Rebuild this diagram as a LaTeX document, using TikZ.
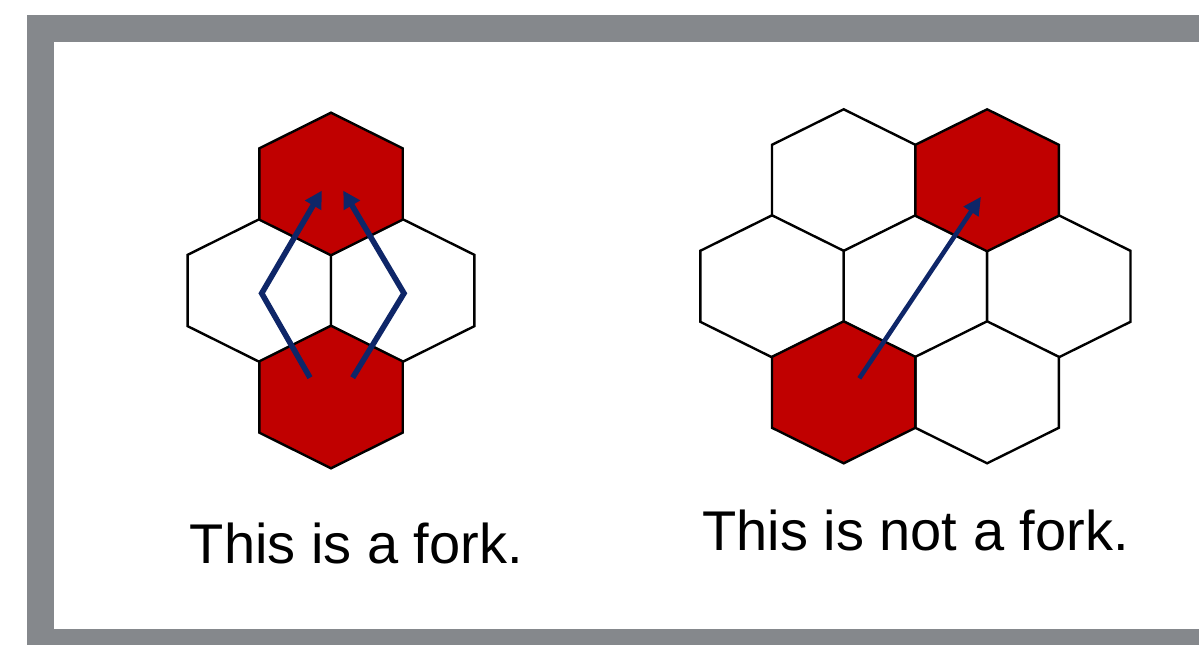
\documentclass[tikz,border=0pt]{standalone}
\usepackage{fontspec}
\setmainfont{Liberation Sans}
\usetikzlibrary{arrows.meta}
\definecolor{framegray}{RGB}{133,136,140}
\definecolor{cellred}{RGB}{192,0,0}
\definecolor{pathblue}{RGB}{14,38,104}
% pointy-top hexagon cell: \hexcell{style}{x}{y}{half width}{radius}
\newcommand{\hexcell}[5]{%
  \draw[#1] (#2,#3-#5) -- (#2+#4,#3-#5/2) -- (#2+#4,#3+#5/2) -- (#2,#3+#5)
    -- (#2-#4,#3+#5/2) -- (#2-#4,#3-#5/2) -- cycle;}
\tikzset{
  cell/.style={draw=black, line width=2.4pt, line join=miter, fill=white},
  redcell/.style={cell, fill=cellred},
  move/.style={draw=pathblue, line width=5.6pt,
    -{Triangle[length=17pt,width=18pt]}},
  thinmove/.style={draw=pathblue, line width=4.6pt,
    -{Triangle[length=18pt,width=17pt]}},
  caption/.style={anchor=base, inner sep=0pt, font=\fontsize{56}{60}\selectfont}
}
\begin{document}
\begin{tikzpicture}[x=1pt,y=-1pt]
\useasboundingbox (0,0) rectangle (1199,645);
% slide frame
\fill[framegray] (27,15) rectangle (1199,645);
\fill[white] (54,42) rectangle (1199,629);

% ---- left board: a fork ----
\hexcell{cell}{259.3}{290.5}{71.7}{71.3}
\hexcell{cell}{402.7}{290.5}{71.7}{71.3}
\hexcell{redcell}{331}{184}{71.7}{71.3}
\hexcell{redcell}{331}{397}{71.7}{71.3}
\coordinate (a1) at (310,377.7);
\coordinate (a2) at (261.7,293.3);
\coordinate (a3) at (321.7,190.7);
\coordinate (b1) at (352.7,377.7);
\coordinate (b2) at (404,293.3);
\coordinate (b3) at (343.3,190.7);
\draw[move] (a1) -- (a2) -- (a3);
\draw[move] (b1) -- (b2) -- (b3);
\node[caption] (fork) at (356.4,563.3) {This is a fork.};

% ---- right board: not a fork ----
\hexcell{cell}{843.7}{180.3}{71.7}{71}
\hexcell{cell}{772}{286.3}{71.7}{71}
\hexcell{cell}{915.4}{286.3}{71.7}{71}
\hexcell{cell}{1058.8}{286.3}{71.7}{71}
\hexcell{cell}{987.1}{392.3}{71.7}{71}
\hexcell{redcell}{987.1}{180.3}{71.7}{71}
\hexcell{redcell}{843.7}{392.3}{71.7}{71}
\coordinate (c1) at (859.3,378.3);
\coordinate (c2) at (981,196.7);
\draw[thinmove] (c1) -- (c2);
\node[caption] (notfork) at (915.5,550) {This is not a fork.};
\end{tikzpicture}
\end{document}
